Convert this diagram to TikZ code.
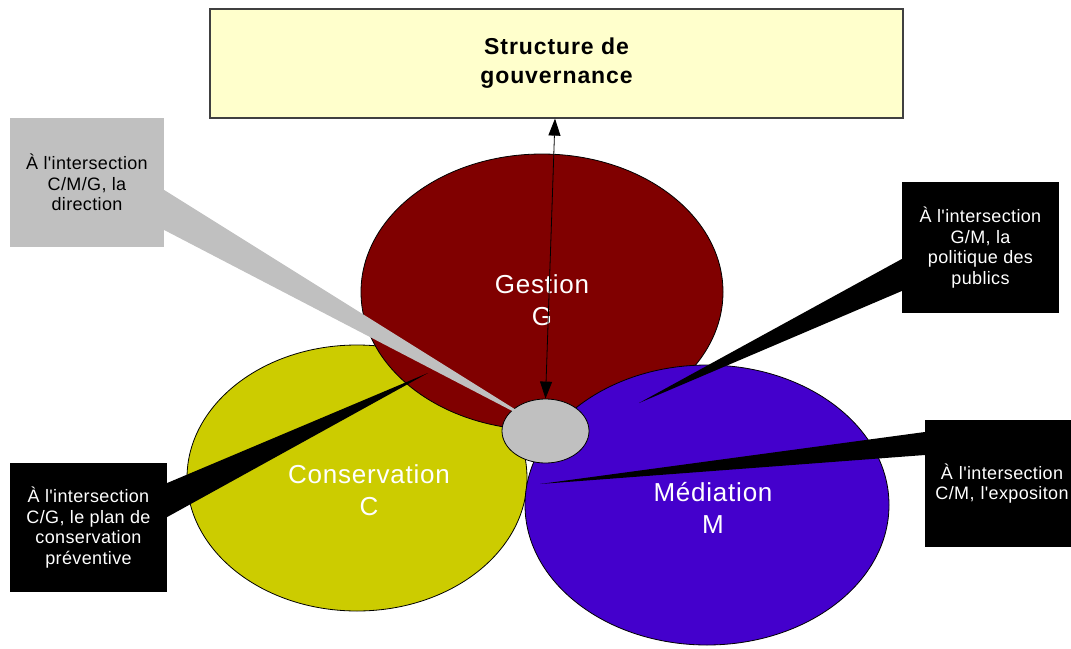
\documentclass[tikz,border=0pt]{standalone}
\usepackage{fontspec}
\setmainfont{Liberation Sans}[Ligatures=TeXOff]
\usetikzlibrary{arrows.meta,calc,shapes.geometric}
\definecolor{boxyellow}{HTML}{FFFFCC}
\definecolor{gred}{HTML}{800000}
\definecolor{cyellow}{HTML}{CCCC00}
\definecolor{mpurple}{HTML}{4400CC}
\definecolor{cgray}{HTML}{C0C0C0}
\definecolor{boxline}{HTML}{404040}
\begin{document}
\begin{tikzpicture}[x=1pt,y=-1pt,
  blob/.style={ellipse,draw=black,line width=0.8pt,inner sep=0pt},
  blobtext/.style={text=white,align=center,font=\fontsize{26}{32}\selectfont\addfontfeatures{LetterSpace=3}},
  callbox/.style={inner sep=0pt,align=center,font=\fontsize{18}{20.7}\selectfont\addfontfeatures{LetterSpace=2}},
  darkbox/.style={callbox,fill=black,text=white},
  lightbox/.style={callbox,fill=cgray,text=black},
  arr/.style={line width=0.8pt,{Triangle[length=17pt,width=12pt]}-{Triangle[length=17pt,width=12pt]}}
]
\useasboundingbox (0,0) rectangle (1071,648);
\fill[white] (0,0) rectangle (1071,648);

% circles
\node[blob,fill=cyellow,minimum width=340,minimum height=266] (C) at (357,478) {};
\node[blob,fill=gred,minimum width=362,minimum height=276] (G) at (542,292) {};
\node[blob,fill=mpurple,minimum width=364,minimum height=280] (M) at (707,505) {};
\node[blob,fill=cgray,minimum width=87,minimum height=64] (core) at (545.5,431) {};

\node[blobtext] (Ct) at (369,490) {Conservation\\C};
\node[blobtext] (Gt) at (542,300) {Gestion\\G};
\node[blobtext] (Mt) at (713,508) {Médiation\\M};

% callout boxes
\node[lightbox,minimum width=154,minimum height=129] (cmg) at (87,182.5)
  {À l'intersection\\C/M/G, la\\direction};
\node[darkbox,minimum width=157,minimum height=131] (gm) at (980.5,247.5)
  {À l'intersection\\G/M, la\\politique des\\publics};
\node[darkbox,minimum width=146,minimum height=127,text width=146] (cm) at (998,483.5)
  {\hspace*{8pt}À l'intersection\\\hspace*{8pt}C/M, l'expositon};
\node[darkbox,minimum width=157,minimum height=129] (cg) at (88.5,527.5)
  {À l'intersection\\C/G, le plan de\\conservation\\préventive};

% callout pointers
\coordinate (cmgtip) at (545,428);
\coordinate (gmtip) at (639,403);
\coordinate (cmtip) at (540,484);
\coordinate (cgtip) at (428,373);
\fill[cgray] ($(cmg.east)+(0,7.5)$) -- (cmgtip) -- ($(cmg.east)+(0,47.5)$) -- cycle;
\fill[black] ($(gm.west)+(0,11.5)$) -- (gmtip) -- ($(gm.west)+(0,43.5)$) -- cycle;
\fill[black] ($(cm.west)+(0,-51.5)$) -- (cmtip) -- ($(cm.west)+(0,-28.5)$) -- cycle;
\fill[black] ($(cg.east)+(0,-44.5)$) -- (cgtip) -- ($(cg.east)+(0,-10.5)$) -- cycle;

% governance box
\node[draw=boxline,line width=1.2pt,fill=boxyellow,minimum width=693,minimum height=109,inner sep=0pt,
  align=center,font=\bfseries\fontsize{23}{29}\selectfont\addfontfeatures{LetterSpace=4}] (gov) at (556.5,63.5)
  {Structure de\\gouvernance};

\draw[arr] ([xshift=-1.5pt]gov.south) -- (core.north);
\end{tikzpicture}
\end{document}
